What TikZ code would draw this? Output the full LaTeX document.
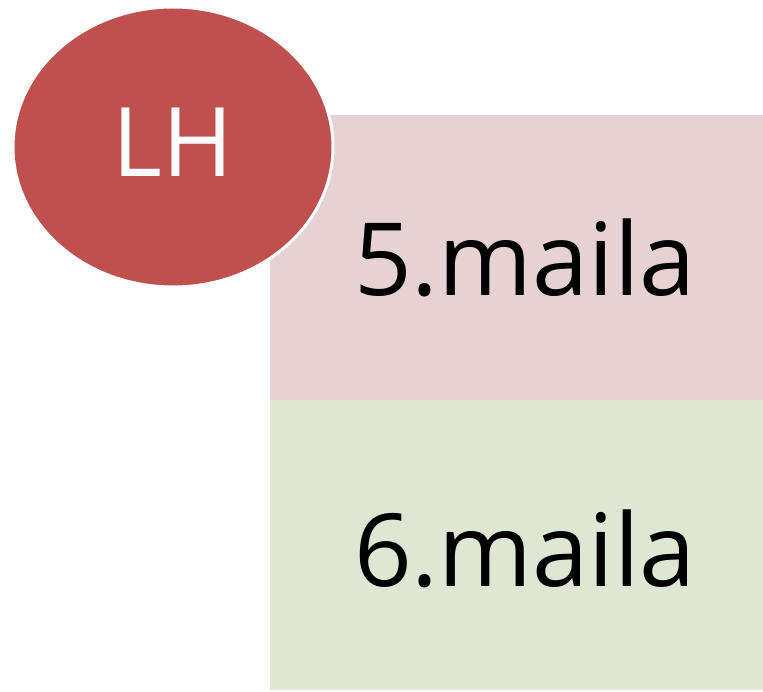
\documentclass[tikz,border=0pt]{standalone}
\usepackage{fontspec}
\setmainfont{Open Sans}
\usetikzlibrary{positioning}
\usetikzlibrary{shapes.geometric}
\definecolor{lhred}{HTML}{C0504D}
\definecolor{pinkbox}{HTML}{E6D2D2}
\definecolor{greenbox}{HTML}{DFE6D4}
\begin{document}
\begin{tikzpicture}[x=1pt,y=-1pt,
  band/.style={rectangle,inner sep=0pt,minimum width=493pt,fill=#1},
  lbl/.style={inner sep=0pt,font=\fontsize{101}{120}\selectfont,text=black},
  badge/.style={ellipse,inner sep=0pt,minimum width=320pt,minimum height=280pt,text depth=9pt,
    fill=lhred,draw=white,line width=3pt,text=white,font=\fontsize{96}{115}\selectfont}]

\useasboundingbox[fill=white] (0,0) rectangle (763,692);

\node [band=pinkbox,minimum height=285pt] (pink) at (516.5,257.5) {};
\node [band=greenbox,minimum height=290pt,below=0pt of pink] (green) {};

\node [lbl,anchor=west] (five) at ([xshift=84pt]pink.west) {5.maila};
\node [lbl,anchor=west] (six) at ([xshift=84pt,yshift=-3pt]green.west) {6.maila};

\node [badge] (lh) at (173,147) {LH};

\end{tikzpicture}
\end{document}
